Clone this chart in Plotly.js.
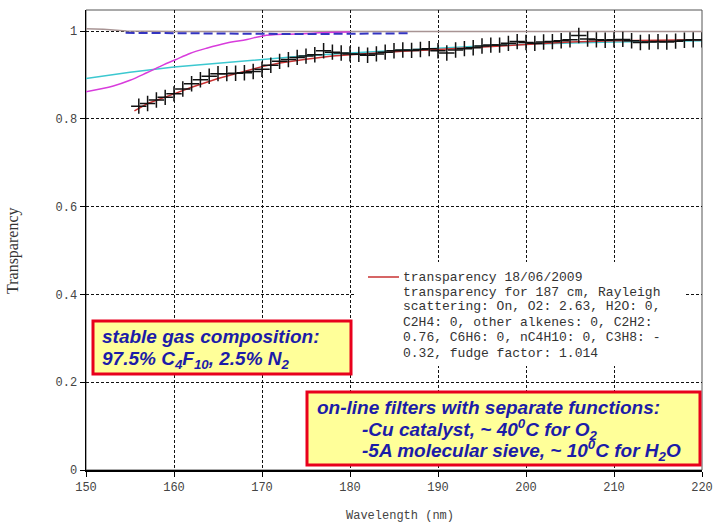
<!DOCTYPE html>
<html>
<head>
<meta charset="utf-8">
<script src="https://cdn.plot.ly/plotly-3.0.1.min.js"></script>
<style>html,body{margin:0;padding:0;background:#fff;}#chart{width:718px;height:528px;}</style>
</head>
<body>
<div id="chart"></div>
<script>
// Measured points (crosses)
const crossWl = [156,157,158,159,160,161,162,163,164,165,166,167,168,169,170,171,172,173,174,175,176,177,178,179,180,181,182,183,184,185,186,187,188,189,190,191,192,193,194,195,196,197,198,199,200,201,202,203,204,205,206,207,208,209,210,211,212,213,214,215,216,217,218,219,220];
const crossVal = [0.829,0.835,0.843,0.849,0.857,0.868,0.880,0.889,0.897,0.903,0.903,0.904,0.905,0.908,0.913,0.922,0.931,0.935,0.940,0.943,0.946,0.955,0.952,0.950,0.948,0.947,0.945,0.948,0.952,0.955,0.957,0.956,0.958,0.960,0.955,0.950,0.957,0.960,0.962,0.966,0.968,0.968,0.972,0.976,0.974,0.972,0.975,0.976,0.978,0.980,0.990,0.982,0.980,0.979,0.980,0.981,0.978,0.974,0.975,0.976,0.975,0.977,0.979,0.980,0.980];

// Red line: transparency 18/06/2009
const redWl  = [155.5,157,160,162,165,168,170,172,175,178,180,183,186,190,195,200,205,210,215,220];
const redVal = [0.818,0.835,0.857,0.872,0.892,0.908,0.919,0.927,0.936,0.943,0.946,0.950,0.954,0.958,0.964,0.970,0.975,0.978,0.979,0.980];

// Magenta curve
const magWl  = [150,153.1,155,156.9,158.8,160.1,161.8,163.7,166,168.3,170.1,172.8,175.8,177.3,180];
const magVal = [0.862,0.875,0.888,0.905,0.923,0.934,0.949,0.961,0.973,0.981,0.989,0.993,0.995,0.997,0.998];

// Cyan curve
const cyanWl  = [150,155,160,165,170,175,180,185,190,195,200,205,210,215,220];
const cyanVal = [0.892,0.906,0.918,0.927,0.936,0.944,0.950,0.956,0.961,0.966,0.970,0.973,0.975,0.977,0.978];

// Grey curve (187 cm calculation)
const greyWl  = [150,152,154.6,160,170,180,190,200,210,220];
const greyVal = [1.005,1.004,1.000,0.999,0.999,0.999,0.999,0.999,0.999,0.999];

// Blue dashed curve
const blueWl  = [154.5,160,165,170,175,180,187];
const blueVal = [0.996,0.995,0.994,0.993,0.993,0.994,0.995];

const xTicks = [150,160,170,180,190,200,210,220];
const yTicks = [0,0.2,0.4,0.6,0.8,1];
const yTickText = ['0','0.2','0.4','0.6','0.8','1'];

const legendLines = [
  'transparency 18/06/2009',
  'transparency for 187 cm, Rayleigh',
  'scattering: On, O2: 2.63, H2O: 0,',
  'C2H4: 0, other alkenes: 0, C2H2:',
  '0.76, C6H6: 0, nC4H10: 0, C3H8: -',
  '0.32, fudge factor: 1.014'
];
const box1Lines = ['stable gas composition:', '97.5% C<sub>4</sub>F<sub>10</sub>, 2.5% N<sub>2</sub>'];
const box2Lines = ['on-line filters with separate functions:', '-Cu catalyst, ~ 40<sup>0</sup>C for O<sub>2</sub>', '-5A molecular sieve, ~ 10<sup>0</sup>C for H<sub>2</sub>O'];

// pixel helpers (plot area 86..702 x, 10..470 y)
const px = v => (v - 86) / 616;
const py = v => (470 - v) / 460;

const traces = [
  {x: greyWl, y: greyVal, mode: 'lines', line: {color: '#a89494', width: 1.5}, showlegend: false, hoverinfo: 'skip'},
  {x: cyanWl, y: cyanVal, mode: 'lines', line: {color: '#3cc8d0', width: 1.5}, showlegend: false},
  {x: magWl, y: magVal, mode: 'lines', line: {color: '#d83cdc', width: 1.5, shape: 'spline'}, showlegend: false},
  {x: blueWl, y: blueVal, mode: 'lines', line: {color: '#3434c0', width: 2, dash: '9px,4px'}, showlegend: false},
  {x: redWl, y: redVal, mode: 'lines', line: {color: '#c83232', width: 1.5}, name: legendLines[0], showlegend: false},
  {x: crossWl, y: crossVal, mode: 'markers', marker: {symbol: 'cross-thin', size: 11, color: '#000', line: {color: '#111', width: 1.5}}, showlegend: false}
];

const annotations = [];
legendLines.forEach((t, i) => {
  const ys = [277, 292, 307, 322, 337, 353];
  annotations.push({xref: 'paper', yref: 'paper', x: px(401), y: py(ys[i]), xanchor: 'left', yanchor: 'middle',
    text: t, showarrow: false, font: {family: 'Liberation Mono, Courier New, monospace', size: 13, color: '#333'}});
});
const blueFont = {family: 'Liberation Sans, Arial, sans-serif', size: 19, color: '#1c1ca8', weight: 'bold', style: 'italic'};
annotations.push({xref: 'paper', yref: 'paper', x: px(100), y: py(336), xanchor: 'left', yanchor: 'middle', text: '<b><i>' + box1Lines[0] + '</i></b>', showarrow: false, font: blueFont});
annotations.push({xref: 'paper', yref: 'paper', x: px(100), y: py(360), xanchor: 'left', yanchor: 'middle', text: '<b><i>' + box1Lines[1] + '</i></b>', showarrow: false, font: blueFont});
annotations.push({xref: 'paper', yref: 'paper', x: px(315), y: py(407), xanchor: 'left', yanchor: 'middle', text: '<b><i>' + box2Lines[0] + '</i></b>', showarrow: false, font: blueFont});
annotations.push({xref: 'paper', yref: 'paper', x: px(360), y: py(429), xanchor: 'left', yanchor: 'middle', text: '<b><i>' + box2Lines[1] + '</i></b>', showarrow: false, font: blueFont});
annotations.push({xref: 'paper', yref: 'paper', x: px(360), y: py(450), xanchor: 'left', yanchor: 'middle', text: '<b><i>' + box2Lines[2] + '</i></b>', showarrow: false, font: blueFont});
// axis titles
annotations.push({xref: 'paper', yref: 'paper', x: px(400), y: py(516), xanchor: 'center', yanchor: 'middle', text: 'Wavelength (nm)', showarrow: false,
  font: {family: 'Liberation Mono, Courier New, monospace', size: 12, color: '#444'}});
annotations.push({xref: 'paper', yref: 'paper', x: px(13), y: py(251), xanchor: 'center', yanchor: 'middle', text: 'Transparency', textangle: -90, showarrow: false,
  font: {family: 'Liberation Serif, Times New Roman, serif', size: 16, color: '#333'}});

const shapes = [
  {type: 'rect', xref: 'paper', yref: 'paper', x0: 0, x1: 1, y0: 0, y1: 1, line: {color: '#555', width: 1}, layer: 'below'},
  {type: 'rect', xref: 'paper', yref: 'paper', x0: px(355), x1: px(685), y0: py(366), y1: py(262), fillcolor: '#fff', line: {width: 0}, layer: 'above'},
  {type: 'line', xref: 'paper', yref: 'paper', x0: px(368), x1: px(399), y0: py(277), y1: py(277), line: {color: '#c83232', width: 1.5}, layer: 'above'},
  {type: 'rect', xref: 'paper', yref: 'paper', x0: px(93), x1: px(351), y0: py(374), y1: py(321), fillcolor: '#ffff99', line: {color: '#e8001c', width: 3}, layer: 'above'},
  {type: 'rect', xref: 'paper', yref: 'paper', x0: px(307), x1: px(700), y0: py(465), y1: py(392), fillcolor: '#ffff99', line: {color: '#e8001c', width: 3}, layer: 'above'}
];

const layout = {
  width: 718, height: 528,
  margin: {l: 86, r: 16, t: 10, b: 58},
  paper_bgcolor: '#fff', plot_bgcolor: '#fff',
  showlegend: false,
  xaxis: {
    range: [150, 220], tickvals: xTicks, ticktext: xTicks.map(String),
    showgrid: true, gridcolor: '#111', gridwidth: 1, griddash: '3px,2px',
    showline: true, linecolor: '#000', linewidth: 2,
    ticks: 'outside', ticklen: 5, tickcolor: '#000', zeroline: false,
    tickfont: {family: 'Liberation Mono, Courier New, monospace', size: 12, color: '#444'}
  },
  yaxis: {
    range: [0, 1.048], tickvals: yTicks, ticktext: yTickText,
    showgrid: true, gridcolor: '#111', gridwidth: 1, griddash: '3px,2px',
    showline: true, linecolor: '#000', linewidth: 1.5,
    ticks: 'outside', ticklen: 5, tickcolor: '#000', zeroline: false,
    tickfont: {family: 'Liberation Mono, Courier New, monospace', size: 12, color: '#444'}
  },
  annotations: annotations,
  shapes: shapes
};

Plotly.newPlot('chart', traces, layout, {displayModeBar: false, staticPlot: true});
</script>
</body>
</html>
